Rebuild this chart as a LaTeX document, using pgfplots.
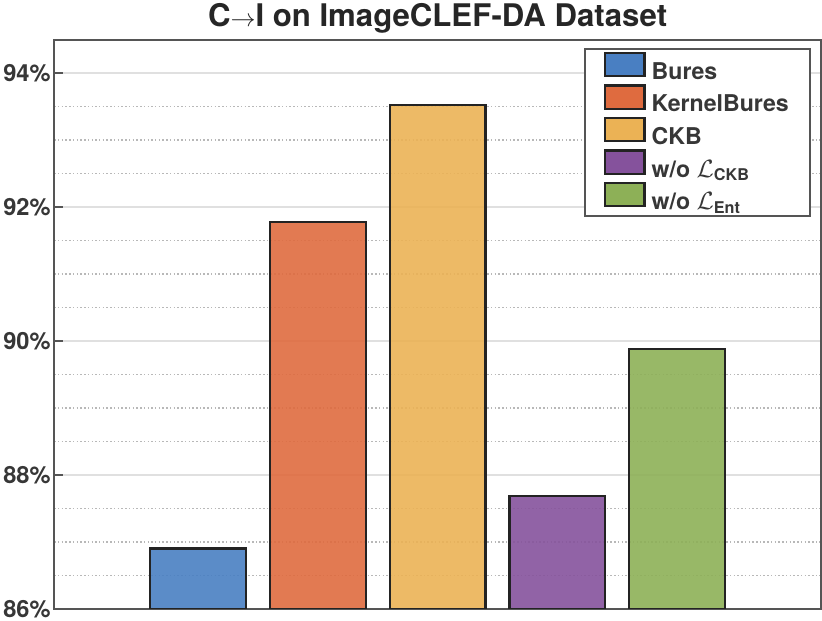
\documentclass[border=0pt]{standalone}
\usepackage{fontspec}
\setmainfont{TeX Gyre Heros}
\usepackage{amsmath}
\usepackage{pgfplots}
\pgfplotsset{compat=1.18}
\definecolor{cBlue}{RGB}{73,127,194}
\definecolor{cOrange}{RGB}{223,107,63}
\definecolor{cYellow}{RGB}{235,178,85}
\definecolor{cPurple}{RGB}{133,82,156}
\definecolor{cGreen}{RGB}{141,176,87}
\definecolor{axgray}{RGB}{85,85,85}
\definecolor{txtgray}{RGB}{55,55,55}
\definecolor{barEdge}{RGB}{35,35,35}
\begin{document}
\begin{tikzpicture}
\begin{axis}[
  scale only axis, width=760bp, height=564bp,
  xmin=-0.2, xmax=6.2, ymin=86, ymax=94.5,
  xtick=\empty,
  ytick={86,88,90,92,94},
  minor ytick={86.5,87,87.5,88.5,89,89.5,90.5,91,91.5,92.5,93,93.5},
  yticklabel={\pgfmathprintnumber{\tick}\%},
  /pgf/number format/assume math mode=true,
  yticklabel style={font=\fontsize{23.5}{23.5}\selectfont\bfseries, text=txtgray},
  tick align=inside, major tick length=9bp, minor tick length=0bp,
  ytick pos=left,
  axis line style={draw=axgray, line width=2bp},
  ymajorgrids, yminorgrids,
  major grid style={draw=black!12, line width=1.8bp},
  minor grid style={draw=black!28, line width=1.4bp, dash pattern=on 1.5bp off 2.2bp},
  major tick style={draw=axgray, line width=2bp},
  title={C$\rightarrow$I on ImageCLEF-DA Dataset},
  title style={font=\fontsize{31}{31}\selectfont\bfseries, text=black!85, yshift=-3bp},
  legend style={at={(1,1)}, anchor=north east, xshift=-10bp, yshift=-8.5bp,
    draw=axgray, line width=2bp, font=\fontsize{23}{23}\selectfont\bfseries,
    text=txtgray, inner xsep=19bp, inner ysep=2.5bp,
    row sep=1.5bp},
  legend cell align=left,
  mybar/.style={ybar, bar width=0.8, bar shift=0pt, draw=barEdge, line width=2.2bp,
    fill opacity=0.9,
    legend image code/.code={\draw[##1, line width=2.2bp, fill opacity=1] (0bp,-4.5bp) rectangle (39bp,18.5bp); \path (43bp,0bp);}},
]
\addplot[mybar, fill=cBlue] coordinates {(1,86.9)};
\addlegendentry{Bures}
\addplot[mybar, fill=cOrange] coordinates {(2,91.78)};
\addlegendentry{KernelBures}
\addplot[mybar, fill=cYellow] coordinates {(3,93.52)};
\addlegendentry{CKB}
\addplot[mybar, fill=cPurple] coordinates {(4,87.68)};
\addlegendentry{w/o $\mathcal{L}_{\textbf{CKB}}$}
\addplot[mybar, fill=cGreen] coordinates {(5,89.88)};
\addlegendentry{w/o $\mathcal{L}_{\textbf{Ent}}$}
\end{axis}
\end{tikzpicture}
\end{document}
